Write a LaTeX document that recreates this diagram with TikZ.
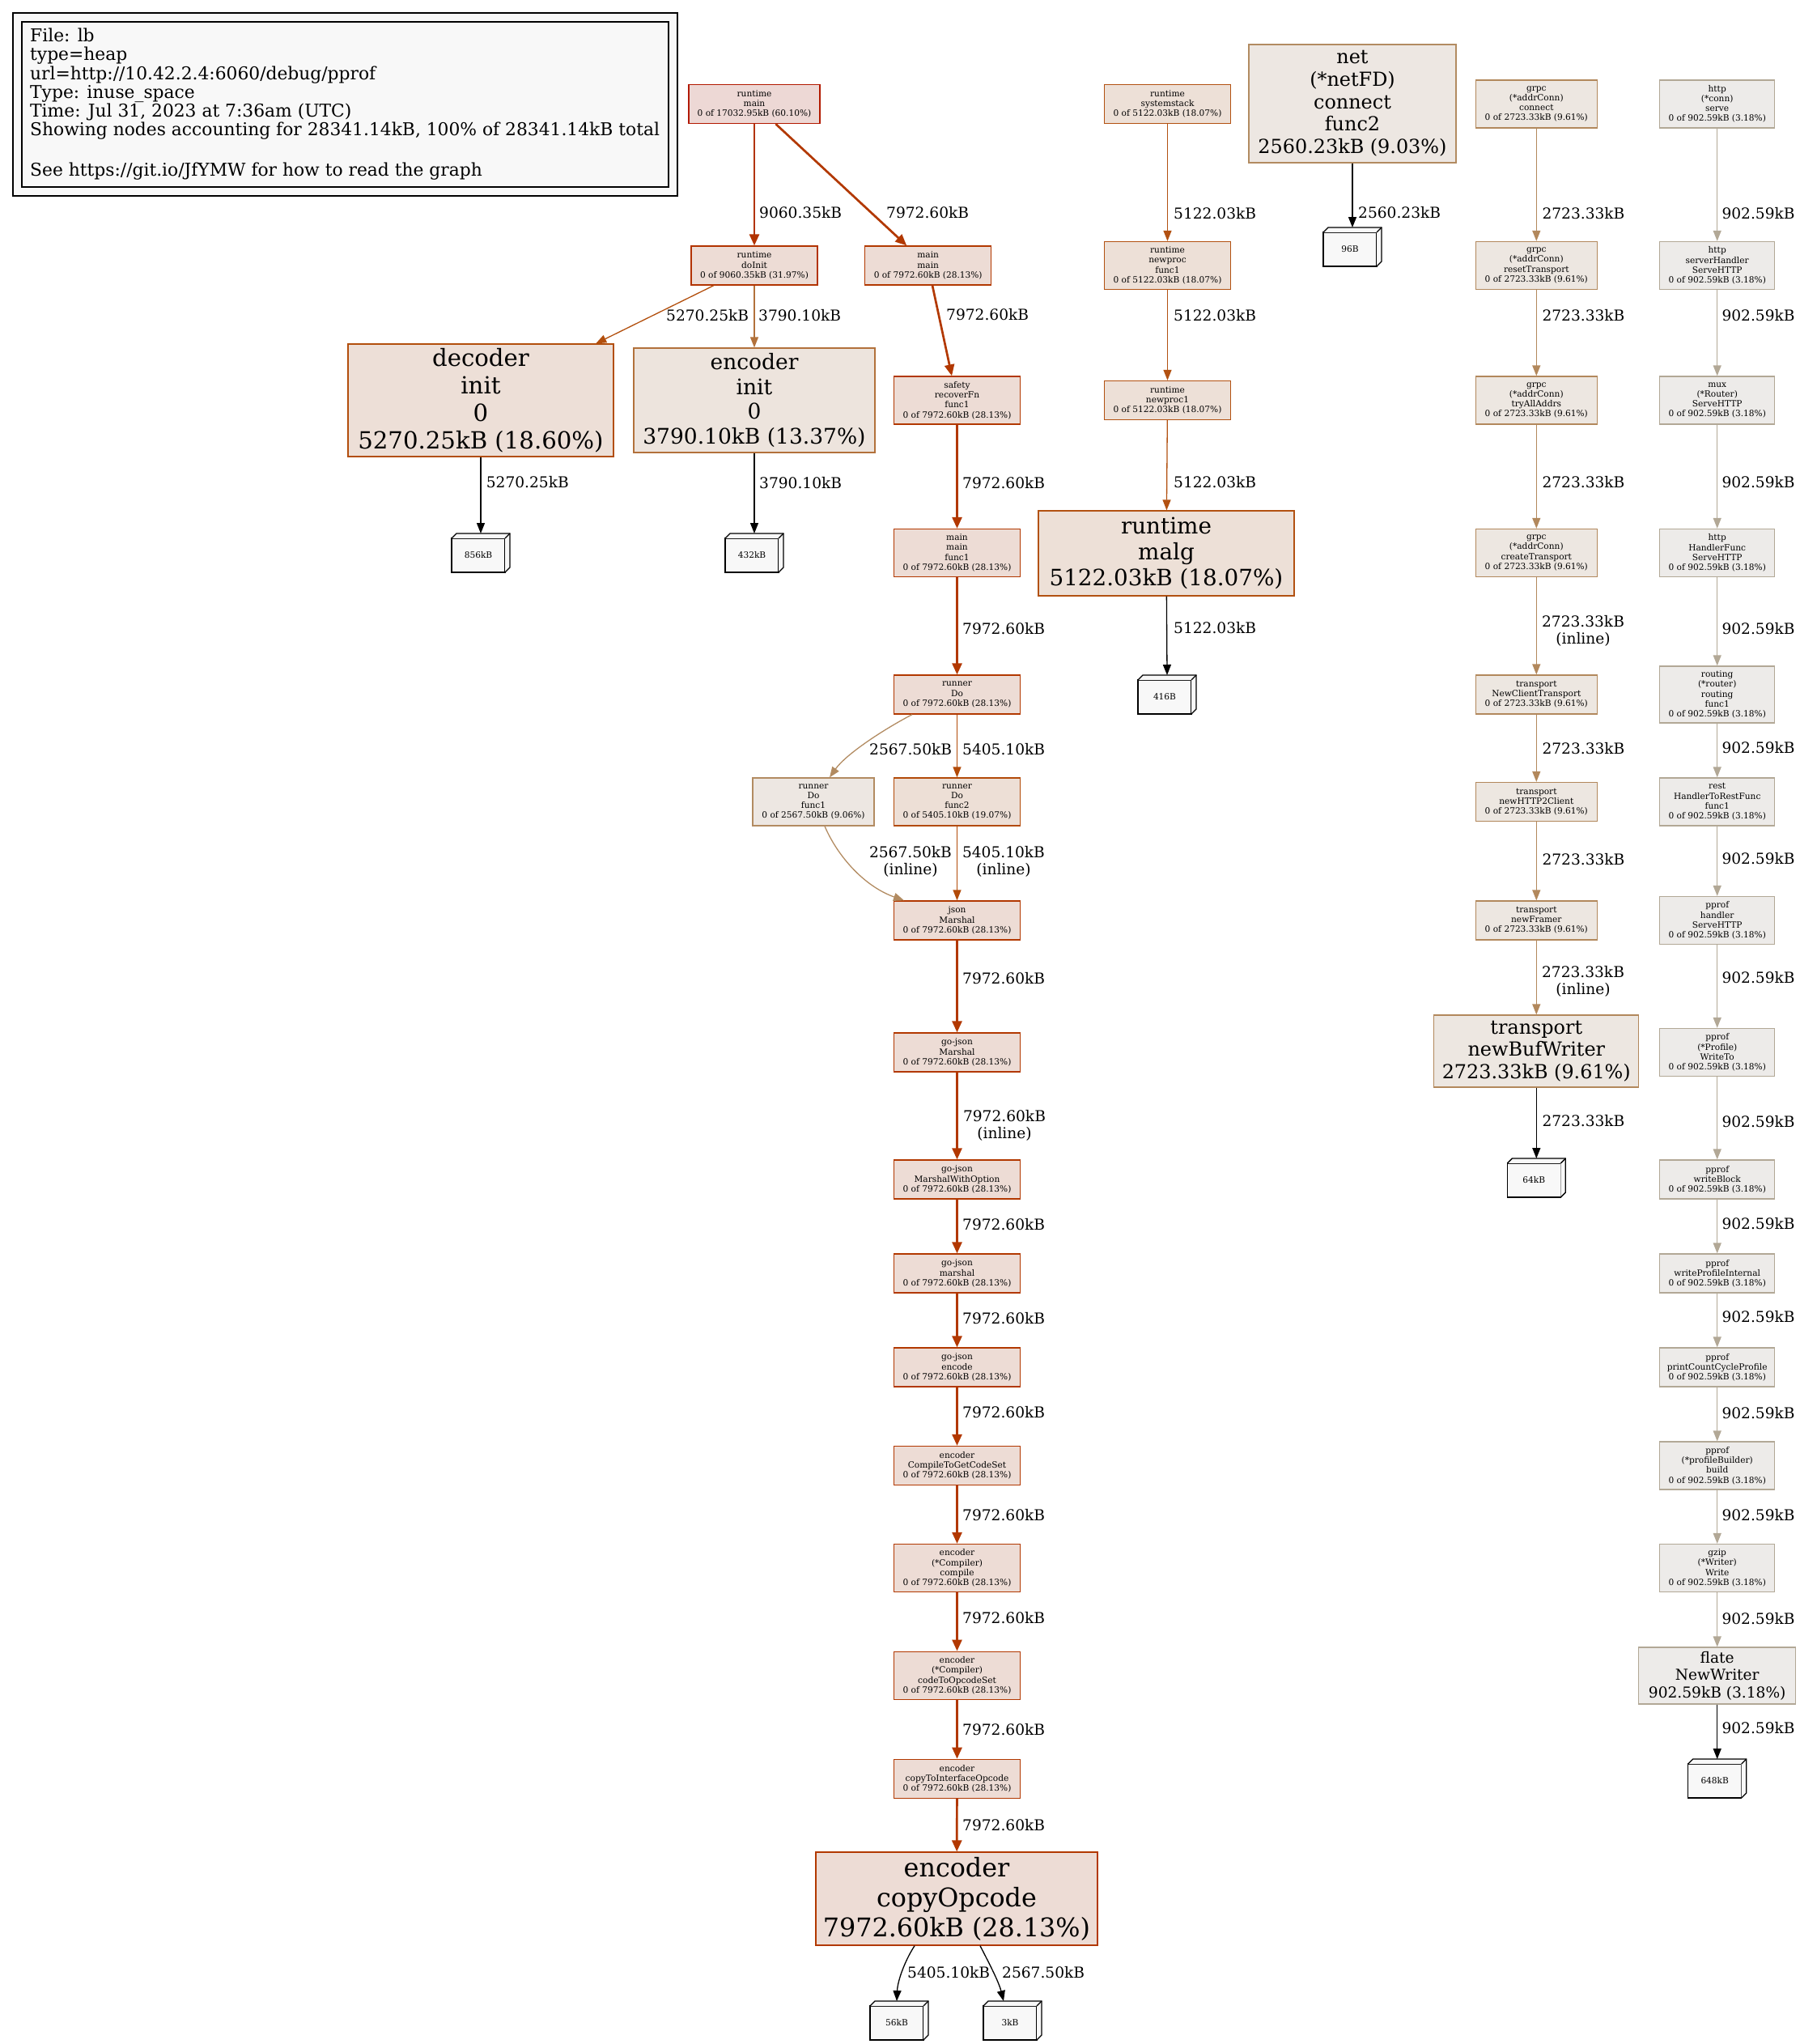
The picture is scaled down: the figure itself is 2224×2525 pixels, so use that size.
\documentclass[tikz,border=0pt]{standalone}
\usepackage{fontspec}
\setmainfont{DejaVu Serif}
\usetikzlibrary{arrows.meta}
\definecolor{f60}{HTML}{EDD8D5}\definecolor{d60}{HTML}{B21900}
\definecolor{f32}{HTML}{EDDCD5}\definecolor{d32}{HTML}{B23300}
\definecolor{f28}{HTML}{EDDCD5}\definecolor{d28}{HTML}{B23800}
\definecolor{f19}{HTML}{EDDFD6}\definecolor{d19}{HTML}{B24A08}
\definecolor{f186}{HTML}{EDDFD7}\definecolor{d186}{HTML}{B24E0C}
\definecolor{f181}{HTML}{EDE0D7}\definecolor{d181}{HTML}{B25111}
\definecolor{f134}{HTML}{EDE4DD}\definecolor{d134}{HTML}{B2713B}
\definecolor{f096}{HTML}{EDE7E1}\definecolor{d096}{HTML}{B2885C}
\definecolor{f091}{HTML}{EDE7E2}\definecolor{d091}{HTML}{B28B61}
\definecolor{f032}{HTML}{EDEBE9}\definecolor{d032}{HTML}{B2A896}
\definecolor{leafgray}{HTML}{F8F8F8}
\newcommand\fsm{\fontsize{10.6pt}{12.2pt}\selectfont}
\newcommand\flab{\fontsize{18.6pt}{21pt}\selectfont}
\newcommand\fleg{\fontsize{21.8pt}{23.2pt}\selectfont}
\tikzset{
  gn/.style={draw, line width=1.3pt, inner sep=0pt, align=center, font=\fsm, minimum width=156pt, minimum height=48pt},
  h59/.style={minimum height=59pt},
  h70/.style={minimum height=70pt},
  c60/.style={fill=f60, draw=d60},
  c32/.style={fill=f32, draw=d32},
  c28/.style={fill=f28, draw=d28},
  c19/.style={fill=f19, draw=d19},
  c186/.style={fill=f186, draw=d186},
  c181/.style={fill=f181, draw=d181},
  c134/.style={fill=f134, draw=d134},
  c096/.style={fill=f096, draw=d096},
  c091/.style={fill=f091, draw=d091},
  c032/.style={fill=f032, draw=d032},
  leaf/.style={draw=black, fill=leafgray, line width=1.3pt, inner sep=0pt, outer sep=0pt, font=\fsm, minimum width=66pt, minimum height=42pt},
  leafline/.style={draw=black, line width=1.3pt, line join=miter},
  ed/.style={-{Triangle[length=13pt,width=10pt]}, line width=1.3pt},
  edh/.style={-{Triangle[length=14pt,width=12pt]}, line width=2.7pt},
  lab/.style={font=\flab, inner sep=0pt, anchor=base west},
  lab2/.style={font=\flab, inner sep=0pt, anchor=north, align=center},
}
\begin{document}
\begin{tikzpicture}[x=1pt,y=-1pt]
\useasboundingbox (0,0) rectangle (2224,2525);
% legend
\draw[line width=1.3pt, fill=leafgray] (16,16) rectangle (837,242);
\draw[line width=1.3pt] (27,27) rectangle (826,231);
\node[font=\fleg, inner sep=0pt, anchor=north west, align=left] (legend) at (37,35)
 {File: lb\\type=heap\\url=http://10.42.2.4:6060/debug/pprof\\Type: inuse\_space\\Time: Jul 31, 2023 at 7:36am (UTC)\\Showing nodes accounting for 28341.14kB, 100\% of 28341.14kB total\\[27pt]See https://git.io/JfYMW for how to read the graph};

% main column
\node[gn,c60,minimum width=162pt] (rtmain) at (932,128.5) {runtime\\main\\0 of 17032.95kB (60.10\%)};
\node[gn,c32] (doinit) at (932,328) {runtime\\doInit\\0 of 9060.35kB (31.97\%)};
\node[gn,c28] (mainmain) at (1146.7,328) {main\\main\\0 of 7972.60kB (28.13\%)};
\node[gn,c186,minimum width=328pt,minimum height=139pt,font={\fontsize{29.2pt}{33.9pt}\selectfont}] (decinit) at (594,494.5) {decoder\\init\\0\\5270.25kB (18.60\%)};
\node[gn,c134,minimum width=298pt,minimum height=129pt,font={\fontsize{26.5pt}{30.7pt}\selectfont}] (encinit) at (932,494.5) {encoder\\init\\0\\3790.10kB (13.37\%)};
\node[gn,c28,h59] (safety) at (1182.5,494.5) {safety\\recoverFn\\func1\\0 of 7972.60kB (28.13\%)};
\node[gn,c28,h59] (mainfunc1) at (1182.5,683) {main\\main\\func1\\0 of 7972.60kB (28.13\%)};
\node[gn,c28] (runnerdo) at (1182.5,858) {runner\\Do\\0 of 7972.60kB (28.13\%)};
\node[gn,c091,h59,minimum width=150pt] (dofunc1) at (1005,990.5) {runner\\Do\\func1\\0 of 2567.50kB (9.06\%)};
\node[gn,c19,h59] (dofunc2) at (1182.5,990.5) {runner\\Do\\func2\\0 of 5405.10kB (19.07\%)};
\node[gn,c28] (jsonmarshal) at (1182.5,1137) {json\\Marshal\\0 of 7972.60kB (28.13\%)};
\node[gn,c28] (gjmarshal) at (1182.5,1300) {go-json\\Marshal\\0 of 7972.60kB (28.13\%)};
\node[gn,c28] (gjmwo) at (1182.5,1457) {go-json\\MarshalWithOption\\0 of 7972.60kB (28.13\%)};
\node[gn,c28] (gjmarshal2) at (1182.5,1573) {go-json\\marshal\\0 of 7972.60kB (28.13\%)};
\node[gn,c28] (gjencode) at (1182.5,1689) {go-json\\encode\\0 of 7972.60kB (28.13\%)};
\node[gn,c28] (compileset) at (1182.5,1810.5) {encoder\\CompileToGetCodeSet\\0 of 7972.60kB (28.13\%)};
\node[gn,c28,h59] (compile) at (1182.5,1937) {encoder\\(*Compiler)\\compile\\0 of 7972.60kB (28.13\%)};
\node[gn,c28,h59] (codetoop) at (1182.5,2069.7) {encoder\\(*Compiler)\\codeToOpcodeSet\\0 of 7972.60kB (28.13\%)};
\node[gn,c28] (copytoif) at (1182.5,2197.3) {encoder\\copyToInterfaceOpcode\\0 of 7972.60kB (28.13\%)};
\node[gn,c28,minimum width=348pt,minimum height=115pt,font={\fontsize{31.8pt}{36.9pt}\selectfont}] (copyop) at (1182,2345.5) {encoder\\copyOpcode\\7972.60kB (28.13\%)};

% runtime column
\node[gn,c181] (sysstack) at (1442.5,128.5) {runtime\\systemstack\\0 of 5122.03kB (18.07\%)};
\node[gn,c181,h59] (newprocf) at (1442.5,328) {runtime\\newproc\\func1\\0 of 5122.03kB (18.07\%)};
\node[gn,c181] (newproc1) at (1442.5,494.5) {runtime\\newproc1\\0 of 5122.03kB (18.07\%)};
\node[gn,c181,minimum width=316pt,minimum height=105pt,font={\fontsize{27.8pt}{32.2pt}\selectfont}] (malg) at (1441,683.5) {runtime\\malg\\5122.03kB (18.07\%)};

% net
\node[gn,c091,minimum width=256pt,minimum height=146pt,font={\fontsize{23.9pt}{27.7pt}\selectfont}] (net) at (1671,128) {net\\(*netFD)\\connect\\func2\\2560.23kB (9.03\%)};

% grpc column
\node[gn,c096,h59,minimum width=150pt] (grpcconn) at (1898.3,128.4) {grpc\\(*addrConn)\\connect\\0 of 2723.33kB (9.61\%)};
\node[gn,c096,h59,minimum width=150pt] (grpcreset) at (1898.3,328) {grpc\\(*addrConn)\\resetTransport\\0 of 2723.33kB (9.61\%)};
\node[gn,c096,h59,minimum width=150pt] (grpctry) at (1898.3,494.5) {grpc\\(*addrConn)\\tryAllAddrs\\0 of 2723.33kB (9.61\%)};
\node[gn,c096,h59,minimum width=150pt] (grpccreate) at (1898.3,683) {grpc\\(*addrConn)\\createTransport\\0 of 2723.33kB (9.61\%)};
\node[gn,c096,minimum width=150pt] (trnewclient) at (1898.3,858) {transport\\NewClientTransport\\0 of 2723.33kB (9.61\%)};
\node[gn,c096,minimum width=150pt] (trhttp2) at (1898.3,990.5) {transport\\newHTTP2Client\\0 of 2723.33kB (9.61\%)};
\node[gn,c096,minimum width=150pt] (trframer) at (1898.3,1137) {transport\\newFramer\\0 of 2723.33kB (9.61\%)};
\node[gn,c096,minimum width=253pt,minimum height=89pt,font={\fontsize{23.9pt}{27.7pt}\selectfont}] (trbufw) at (1898.3,1298.5) {transport\\newBufWriter\\2723.33kB (9.61\%)};

% http column
\node[gn,c032,h59,minimum width=142pt] (httpserve) at (2121.7,128.4) {http\\(*conn)\\serve\\0 of 902.59kB (3.18\%)};
\node[gn,c032,h59,minimum width=142pt] (httpsh) at (2121.7,328) {http\\serverHandler\\ServeHTTP\\0 of 902.59kB (3.18\%)};
\node[gn,c032,h59,minimum width=142pt] (mux) at (2121.7,494.5) {mux\\(*Router)\\ServeHTTP\\0 of 902.59kB (3.18\%)};
\node[gn,c032,h59,minimum width=142pt] (hfunc) at (2121.7,683) {http\\HandlerFunc\\ServeHTTP\\0 of 902.59kB (3.18\%)};
\node[gn,c032,h70,minimum width=142pt] (routing) at (2121.7,858) {routing\\(*router)\\routing\\func1\\0 of 902.59kB (3.18\%)};
\node[gn,c032,h59,minimum width=142pt] (rest) at (2121.7,990.5) {rest\\HandlerToRestFunc\\func1\\0 of 902.59kB (3.18\%)};
\node[gn,c032,h59,minimum width=142pt] (pphandler) at (2121.7,1137) {pprof\\handler\\ServeHTTP\\0 of 902.59kB (3.18\%)};
\node[gn,c032,h59,minimum width=142pt] (ppwriteto) at (2121.7,1300) {pprof\\(*Profile)\\WriteTo\\0 of 902.59kB (3.18\%)};
\node[gn,c032,minimum width=142pt] (ppwb) at (2121.7,1457) {pprof\\writeBlock\\0 of 902.59kB (3.18\%)};
\node[gn,c032,minimum width=142pt] (ppwpi) at (2121.7,1573) {pprof\\writeProfileInternal\\0 of 902.59kB (3.18\%)};
\node[gn,c032,minimum width=142pt] (ppcc) at (2121.7,1689) {pprof\\printCountCycleProfile\\0 of 902.59kB (3.18\%)};
\node[gn,c032,h59,minimum width=142pt] (ppbuild) at (2121.7,1810.5) {pprof\\(*profileBuilder)\\build\\0 of 902.59kB (3.18\%)};
\node[gn,c032,h59,minimum width=142pt] (gzip) at (2121.7,1937) {gzip\\(*Writer)\\Write\\0 of 902.59kB (3.18\%)};
\node[gn,c032,minimum width=194pt,minimum height=70pt,font={\fontsize{18.6pt}{21.6pt}\selectfont}] (flate) at (2121.7,2070) {flate\\NewWriter\\902.59kB (3.18\%)};

% leaves (front faces)
\node[leaf] (l856) at (591,686) {856kB};
\node[leaf] (l432) at (929,686) {432kB};
\node[leaf] (l416) at (1439,861) {416B};
\node[leaf] (l96) at (1668,308) {96B};
\node[leaf] (l64) at (1895.3,1458) {64kB};
\node[leaf] (l648) at (2118.7,2200) {648kB};
\node[leaf] (l56) at (1108,2499) {56kB};
\node[leaf] (l3) at (1248,2499) {3kB};
\foreach \n in {l856,l432,l416,l96,l64,l648,l56,l3}{
  \fill[leafgray] (\n.north west) -- ++(6pt,6pt) -- ([shift={(6pt,6pt)}]\n.north east) -- ([shift={(6pt,6pt)}]\n.south east) -- (\n.south east) -- (\n.north east) -- cycle;
  \draw[leafline] (\n.north west) -- ++(6pt,6pt) -- ([shift={(6pt,6pt)}]\n.north east) -- ([shift={(6pt,6pt)}]\n.south east) -- (\n.south east);
  \draw[leafline] (\n.north east) -- ++(6pt,6pt);
}

% edges main
\draw[edh,d32] (rtmain) -- (doinit);
\draw[edh,d28] (rtmain) -- (mainmain);
\draw[ed,d186] (doinit) -- (decinit);
\draw[ed,d134] (doinit) -- (encinit);
\draw[edh,d28] (mainmain) -- (safety);
\draw[ed,black] (decinit) -- ([shift={(3pt,6pt)}]l856.north);
\draw[ed,black] (encinit) -- ([shift={(3pt,6pt)}]l432.north);
\draw[edh,d28] (safety) -- (mainfunc1);
\draw[edh,d28] (mainfunc1) -- (runnerdo);
\draw[ed,d091] ([xshift=-55.5pt]runnerdo.south) .. controls (1090,902) and (1045,932) .. ([xshift=20pt]dofunc1.north);
\draw[ed,d19] (runnerdo) -- (dofunc2);
\draw[ed,d091] ([xshift=14pt]dofunc1.south) .. controls (1035,1058) and (1068,1095) .. ([xshift=-65.5pt]jsonmarshal.north);
\draw[ed,d19] (dofunc2) -- (jsonmarshal);
\draw[edh,d28] (jsonmarshal) -- (gjmarshal);
\draw[edh,d28] (gjmarshal) -- (gjmwo);
\draw[edh,d28] (gjmwo) -- (gjmarshal2);
\draw[edh,d28] (gjmarshal2) -- (gjencode);
\draw[edh,d28] (gjencode) -- (compileset);
\draw[edh,d28] (compileset) -- (compile);
\draw[edh,d28] (compile) -- (codetoop);
\draw[edh,d28] (codetoop) -- (copytoif);
\draw[edh,d28] (copytoif) -- (copyop);
\draw[ed,black] ([xshift=-52pt]copyop.south) .. controls (1118,2422) and (1109,2447) .. ([shift={(0pt,6pt)}]l56.north);
\draw[ed,black] ([xshift=29pt]copyop.south) .. controls (1222,2425) and (1234,2448) .. ([shift={(-8pt,6pt)}]l3.north);
% runtime
\draw[ed,d181] (sysstack) -- (newprocf);
\draw[ed,d181] (newprocf) -- (newproc1);
\draw[ed,d181] (newproc1) -- (malg);
\draw[ed,black] (malg) -- ([shift={(3pt,6pt)}]l416.north);
\draw[ed,black] (net) -- ([shift={(3pt,6pt)}]l96.north);
% grpc
\draw[ed,d096] (grpcconn) -- (grpcreset);
\draw[ed,d096] (grpcreset) -- (grpctry);
\draw[ed,d096] (grpctry) -- (grpccreate);
\draw[ed,d096] (grpccreate) -- (trnewclient);
\draw[ed,d096] (trnewclient) -- (trhttp2);
\draw[ed,d096] (trhttp2) -- (trframer);
\draw[ed,d096] (trframer) -- (trbufw);
\draw[ed,black] (trbufw) -- ([shift={(3pt,6pt)}]l64.north);
% http
\draw[ed,d032] (httpserve) -- (httpsh);
\draw[ed,d032] (httpsh) -- (mux);
\draw[ed,d032] (mux) -- (hfunc);
\draw[ed,d032] (hfunc) -- (routing);
\draw[ed,d032] (routing) -- (rest);
\draw[ed,d032] (rest) -- (pphandler);
\draw[ed,d032] (pphandler) -- (ppwriteto);
\draw[ed,d032] (ppwriteto) -- (ppwb);
\draw[ed,d032] (ppwb) -- (ppwpi);
\draw[ed,d032] (ppwpi) -- (ppcc);
\draw[ed,d032] (ppcc) -- (ppbuild);
\draw[ed,d032] (ppbuild) -- (gzip);
\draw[ed,d032] (gzip) -- (flate);
\draw[ed,black] (flate) -- ([shift={(3pt,6pt)}]l648.north);

% labels main
\node[lab] (m1) at (938,269.8) {9060.35kB};
\node[lab] (m2) at (1095,269.8) {7972.60kB};
\node[lab] (m3) at (823,396.8) {5270.25kB};
\node[lab] (m4) at (937,396.8) {3790.10kB};
\node[lab] (m5) at (1169,395.8) {7972.60kB};
\node[lab] (m6) at (600.7,602.8) {5270.25kB};
\node[lab] (m7) at (938,603.8) {3790.10kB};
\node[lab] (m8) at (1189,603.8) {7972.60kB};
\node[lab] (m9) at (1189,783.8) {7972.60kB};
\node[lab] (m10) at (1074,932.5) {2567.50kB};
\node[lab] (m11) at (1189,932.5) {5405.10kB};
\node[lab2] (m12) at (1125,1044.7) {2567.50kB\\(inline)};
\node[lab2] (m13) at (1240,1044.7) {5405.10kB\\(inline)};
\node[lab] (m14) at (1189,1215.8) {7972.60kB};
\node[lab2] (m15) at (1241,1370.7) {7972.60kB\\(inline)};
\node[lab] (m16) at (1189,1519.8) {7972.60kB};
\node[lab] (m17) at (1189,1635.8) {7972.60kB};
\node[lab] (m18) at (1189,1751.8) {7972.60kB};
\node[lab] (m19) at (1189,1878.5) {7972.60kB};
\node[lab] (m20) at (1189,2005.8) {7972.60kB};
\node[lab] (m21) at (1189,2143.8) {7972.60kB};
\node[lab] (m22) at (1189,2261.3) {7972.60kB};
\node[lab] (m23) at (1121,2443.8) {5405.10kB};
\node[lab] (m24) at (1238,2443.8) {2567.50kB};
% runtime labels
\node[lab] (r1) at (1450,270.1) {5122.03kB};
\node[lab] (r2) at (1450,396.1) {5122.03kB};
\node[lab] (r3) at (1450,602.8) {5122.03kB};
\node[lab] (r4) at (1450,782.8) {5122.03kB};
\node[lab] (n1) at (1678,269.3) {2560.23kB};
% grpc labels
\node[lab] (g1) at (1905.3,270.8) {2723.33kB};
\node[lab] (g2) at (1905.3,396.1) {2723.33kB};
\node[lab] (g3) at (1905.3,602.2) {2723.33kB};
\node[lab2] (g4) at (1956,760.2) {2723.33kB\\(inline)};
\node[lab] (g5) at (1905.3,931.8) {2723.33kB};
\node[lab] (g6) at (1905.3,1068.8) {2723.33kB};
\node[lab2] (g7) at (1956,1192.7) {2723.33kB\\(inline)};
\node[lab] (g8) at (1905.3,1391.8) {2723.33kB};
% http labels
\foreach \y [count=\i] in {263.5,390,596,777,924,1061,1208,1386,1512,1627,1746,1872,2000,2135}{
  \node[lab] (h\i) at (2127.3,\y+6.8) {902.59kB};
}
\end{tikzpicture}
\end{document}
